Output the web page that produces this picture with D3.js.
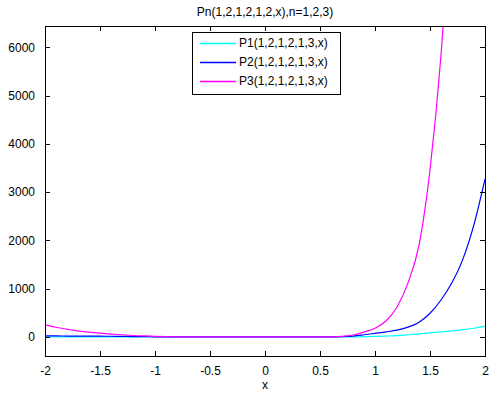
<!DOCTYPE html>
<html>
<head>
<meta charset="utf-8">
<script src="https://cdn.jsdelivr.net/npm/d3@7"></script>
<style>
    body { margin: 0; background: #fff; }
    svg { display: block; font-family: "Liberation Sans", Arial, sans-serif; }
</style>
</head>
<body>
<svg id="chart" width="501" height="395"></svg>
<script>
// Data
const xs = [-2, -1.9, -1.8, -1.7, -1.6, -1.5, -1.4, -1.3, -1.2, -1.1, -1, -0.9, -0.8, -0.7, -0.6, -0.5, -0.4, -0.3, -0.2, -0.1,
             0, 0.1, 0.2, 0.3, 0.4, 0.5, 0.6, 0.7, 0.8, 0.9, 1, 1.1, 1.2, 1.3, 1.4, 1.5, 1.6, 1.7, 1.8, 1.9, 2];
const p1 = [3, 3, 2, 2, 2, 1, 1, 1, 1, 0, 0, 0, 0, 0, 0, 0, 0, 0, 0, 0,
            0, 0, 0, 0, 0, 0, 0, 0, 2, 5, 10, 18, 28, 45, 62, 85, 105, 125, 150, 180, 225];
const p2 = [22, 20, 18, 17, 16, 15, 14, 12, 8, 5, 3, 1, 0, 0, 0, 0, 0, 0, 0, 0,
            0, 0, 0, 0, 0, 0, 0, 5, 18, 45, 75, 105, 140, 202, 305, 490, 765, 1126, 1617, 2330, 3270];
const p3 = [250, 200, 160, 124, 100, 78, 60, 45, 30, 20, 12, 5, 2, 0, 0, 0, 0, 0, 0, 0,
            0, 0, 0, 0, 0, 0, 0, 10, 40, 100, 180, 330, 620, 1120, 1900, 3460, 5840, 9400];
const seriesNames = ['P1(1,2,1,2,1,3,x)', 'P2(1,2,1,2,1,3,x)', 'P3(1,2,1,2,1,3,x)'];
const seriesColors = ['#00FFFF', '#0000FF', '#FF00FF'];
const xTicks = [-2, -1.5, -1, -0.5, 0, 0.5, 1, 1.5, 2];
const yTicks = [0, 1000, 2000, 3000, 4000, 5000, 6000];
const titleText = 'Pn(1,2,1,2,1,2,x),n=1,2,3)';

// Layout
const plotLeft = 45, plotRight = 485, plotTop = 26, plotBottom = 356;
const TICK = 5;

const svg = d3.select('#chart');

const x = d3.scaleLinear().domain([-2, 2]).range([plotLeft, plotRight]);
const y = d3.scaleLinear().domain([-395, 6440]).range([plotBottom, plotTop]);

// plain hyphen instead of the unicode minus, like the original
const fmt = (d) => String(d);

svg.append('defs').append('clipPath')
    .attr('id', 'plotclip')
  .append('rect')
    .attr('x', plotLeft).attr('y', plotTop)
    .attr('width', plotRight - plotLeft).attr('height', plotBottom - plotTop);

// Curves
const line = d3.line()
    .x((d) => x(d[0]))
    .y((d) => y(d[1]))
    .curve(d3.curveMonotoneX);

const curves = svg.append('g')
    .attr('clip-path', 'url(#plotclip)');

[p1, p2, p3].forEach((vals, i) => {
    curves.append('path')
        .datum(vals.map((v, j) => [xs[j], v]))
        .attr('fill', 'none')
        .attr('stroke', seriesColors[i])
        .attr('stroke-width', 1.2)
        .attr('d', line);
});

// Axes (box with ticks on all four sides, pointing inwards)
const axisStyle = (g) => {
    g.select('.domain').remove();
    g.selectAll('line').attr('stroke', '#000').attr('shape-rendering', 'crispEdges');
    g.selectAll('text').attr('fill', '#000').attr('font-size', 12);
};

svg.append('g')
    .attr('transform', `translate(0,${plotBottom})`)
    .call(d3.axisBottom(x).tickValues(xTicks).tickSize(-TICK).tickPadding(10).tickFormat(fmt))
    .call(axisStyle);

svg.append('g')
    .attr('transform', `translate(0,${plotTop})`)
    .call(d3.axisTop(x).tickValues(xTicks).tickSize(-TICK).tickFormat(''))
    .call(axisStyle);

svg.append('g')
    .attr('transform', `translate(${plotLeft},0)`)
    .call(d3.axisLeft(y).tickValues(yTicks).tickSize(-TICK).tickPadding(10).tickFormat(fmt))
    .call(axisStyle);

svg.append('g')
    .attr('transform', `translate(${plotRight},0)`)
    .call(d3.axisRight(y).tickValues(yTicks).tickSize(-TICK).tickFormat(''))
    .call(axisStyle);

svg.append('rect')
    .attr('x', plotLeft).attr('y', plotTop)
    .attr('width', plotRight - plotLeft).attr('height', plotBottom - plotTop)
    .attr('fill', 'none')
    .attr('stroke', '#000')
    .attr('shape-rendering', 'crispEdges');

// Title and axis label
svg.append('text')
    .attr('x', (plotLeft + plotRight) / 2)
    .attr('y', 16)
    .attr('text-anchor', 'middle')
    .attr('font-size', 12)
    .text(titleText);

svg.append('text')
    .attr('x', (plotLeft + plotRight) / 2)
    .attr('y', 389)
    .attr('text-anchor', 'middle')
    .attr('font-size', 12)
    .text('x');

// Legend
const legend = svg.append('g')
    .attr('transform', 'translate(192,32)');

legend.append('rect')
    .attr('width', 148).attr('height', 62)
    .attr('fill', '#fff')
    .attr('stroke', '#000')
    .attr('shape-rendering', 'crispEdges');

seriesNames.forEach((name, i) => {
    const row = legend.append('g')
        .attr('transform', `translate(0,${11 + i * 19})`);
    row.append('line')
        .attr('x1', 8).attr('x2', 44)
        .attr('y1', 0.5).attr('y2', 0.5)
        .attr('stroke', seriesColors[i])
        .attr('stroke-width', 1.5);
    row.append('text')
        .attr('x', 47)
        .attr('dy', '0.35em')
        .attr('font-size', 12)
        .text(name);
});
</script>
</body>
</html>
